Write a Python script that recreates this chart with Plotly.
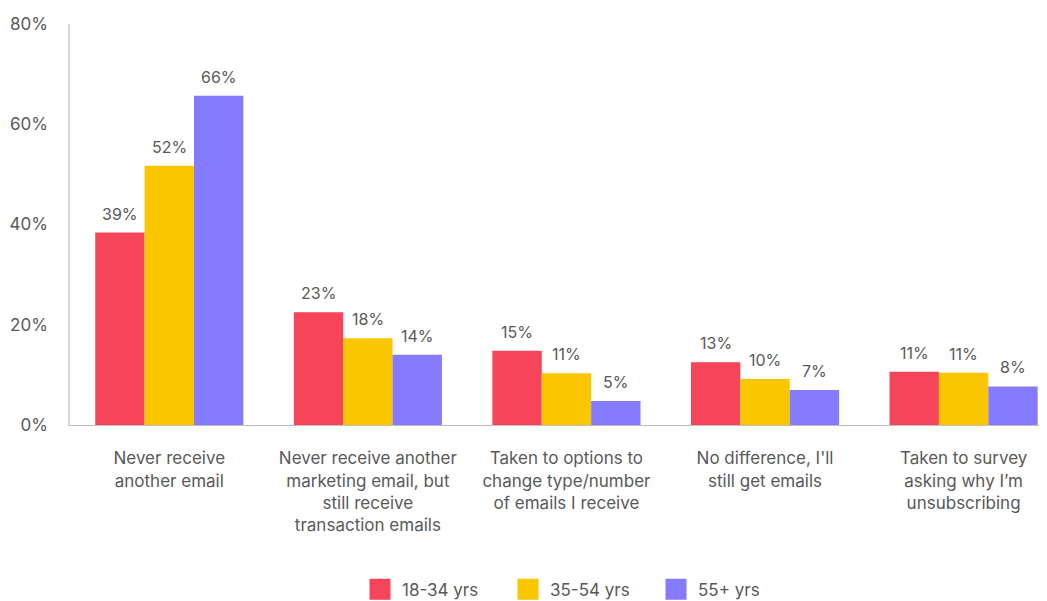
import plotly.graph_objects as go

categories = [
    "Never receive<br>another email",
    "Never receive another<br>marketing email, but<br>still receive<br>transaction emails",
    "Taken to options to<br>change type/number<br>of emails I receive",
    "No difference, I'll<br>still get emails",
    "Taken to survey<br>asking why I’m<br>unsubscribing",
]
series_names = ["18-34 yrs", "35-54 yrs", "55+ yrs"]
values_18_34 = [38.4, 22.5, 14.8, 12.5, 10.6]
values_35_54 = [51.7, 17.3, 10.3, 9.2, 10.4]
values_55_plus = [65.7, 14.0, 4.8, 7.0, 7.7]
labels_18_34 = ["39%", "23%", "15%", "13%", "11%"]
labels_35_54 = ["52%", "18%", "11%", "10%", "11%"]
labels_55_plus = ["66%", "14%", "5%", "7%", "8%"]
y_ticks = [0, 20, 40, 60, 80]
colors = ["#F64558", "#FAC600", "#857BFF"]

FONT = "Inter, Roboto, sans-serif"
TXT = "#595959"
BARGAP = 0.254

fig = go.Figure()
x_idx = list(range(len(categories)))
bar_w = (1 - BARGAP) / 3
annotations = []
for k, (name, vals, labs, col) in enumerate(zip(
        series_names,
        [values_18_34, values_35_54, values_55_plus],
        [labels_18_34, labels_35_54, labels_55_plus],
        colors)):
    fig.add_trace(go.Bar(
        x=x_idx, y=vals, name=name, marker_color=col, marker_line_width=0,
        showlegend=False, hoverinfo="skip",
    ))
    fig.add_trace(go.Scatter(
        x=[None], y=[None], mode="markers", name=name,
        marker=dict(symbol="square", size=22, color=col,
                    line=dict(color=col, width=5)),
        showlegend=True,
    ))
    for xi, v, lab in zip(x_idx, vals, labs):
        annotations.append(dict(
            x=xi + (k - 1) * bar_w, y=v, xref="x", yref="y", text=lab,
            showarrow=False, yanchor="bottom", yshift=7,
            font=dict(size=16, color=TXT, family=FONT),
        ))

fig.update_layout(
    width=1039, height=593,
    paper_bgcolor="white", plot_bgcolor="white",
    margin=dict(l=62, r=0, t=16, b=176, autoexpand=False),
    barmode="group", bargap=BARGAP, bargroupgap=0,
    font=dict(family=FONT, size=16, color=TXT),
    annotations=annotations,
    legend=dict(orientation="h", x=0.522, xanchor="center", y=-0.411, yanchor="middle",
                font=dict(size=17, color=TXT, family=FONT), itemsizing="trace",
                itemwidth=34, tracegroupgap=0, entrywidth=99),
    xaxis=dict(
        tickmode="array", tickvals=x_idx, ticktext=categories,
        range=[-0.5, 4.42], showline=True, linecolor="#BFBFBF", linewidth=1,
        showgrid=False, ticks="", tickfont=dict(size=17, color=TXT, family=FONT),
        zeroline=False, fixedrange=True, automargin=False, ticklabelstandoff=18,
    ),
    yaxis=dict(
        range=[0, 80], tickmode="array", tickvals=y_ticks,
        ticktext=[f"{t}%" for t in y_ticks],
        showline=True, linecolor="#D9D9D9", linewidth=1.5, showgrid=False,
        zeroline=False, ticks="", tickfont=dict(size=17, color=TXT, family=FONT),
        ticklabelstandoff=17, automargin=False,
    ),
)

fig.write_html("out.html")
